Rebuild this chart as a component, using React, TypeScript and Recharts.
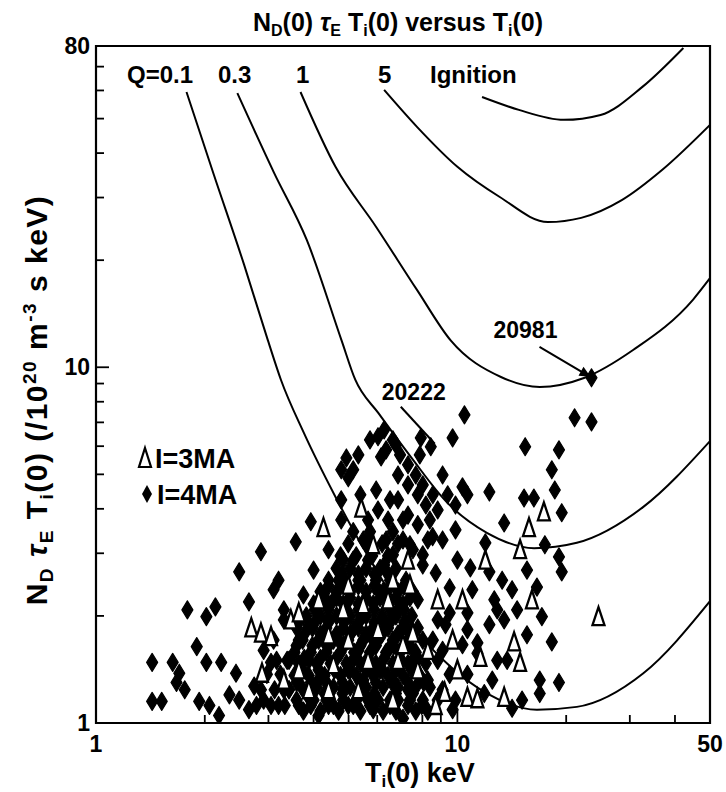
import { ComposedChart, Line, Scatter, XAxis, YAxis, ReferenceArea, ReferenceDot } from "recharts"

const X_TICKS = [1, 2, 3, 4, 5, 6, 7, 8, 9, 10, 20, 30, 40, 50]
const X_LABELS = [1, 10, 50]
const Y_TICKS = [1, 2, 3, 4, 5, 6, 7, 8, 9, 10, 20, 30, 40, 50, 60, 70, 80]
const Y_LABELS = [1, 10, 80]

// Q contours, [Ti(0) keV, N tau T]
const Q01 = [[1.78, 59.4], [2.12, 34.7], [2.57, 19.4], [2.99, 11.9], [3.25, 9.21], [3.76, 6.54], [4.6, 4.32], [5.85, 2.78], [7.78, 1.79], [9.58, 1.44], [12.1, 1.21], [16.6, 1.09], [21.4, 1.11], [32.7, 1.38], [50, 2.2]]
const Q03 = [[2.46, 59.0], [3.11, 35.2], [3.83, 22.8], [4.78, 11.9], [5.22, 9.21], [6.04, 7.44], [7.44, 5.59], [9.4, 4.15], [12.1, 3.42], [16.3, 3.1], [21.4, 3.21], [32.7, 4.05], [50, 6.2]]
const Q1 = [[3.68, 59.4], [4.6, 36.6], [5.96, 24.8], [7.73, 16.5], [9.58, 11.9], [13.2, 9.39], [16.9, 8.8], [22.4, 9.33], [30.7, 11.2], [44.9, 15.5], [50, 17.8]]
const Q5 = [[6.27, 60.2], [7.73, 47.4], [10.0, 36.6], [13.1, 30.1], [17.8, 25.6], [22.0, 26.3], [28.5, 29.5], [36.9, 35.9], [50, 48.0]]
const IGNITION = [[11.7, 57.5], [14.8, 52.9], [19.7, 49.6], [24.9, 51.2], [32.5, 61.4], [42.2, 79.0]]

// shots, I = 4MA (filled diamonds)
const I4MA = [
  [1.43, 1.15], [1.52, 1.15], [1.43, 1.48], [1.63, 1.48], [1.7, 1.38], [1.67, 1.3], [1.76, 1.24], [1.9, 1.64], [2.02, 1.48], [1.93, 1.15],
  [1.79, 2.08], [2.02, 1.99], [2.14, 2.12], [2.22, 1.48], [2.44, 1.38], [2.49, 2.66], [2.65, 2.19], [2.86, 3.03], [3.2, 2.52], [3.1, 2.37],
  [3.05, 1.48], [3.57, 3.23], [3.93, 3.68], [4.77, 5.15], [4.93, 5.56], [4.99, 4.89], [4.77, 4.24], [4.77, 3.72], [6.03, 6.38], [6.15, 5.6],
  [6.03, 3.97], [5.96, 4.52], [6.27, 6.67], [6.35, 5.86], [6.85, 4.98], [7.3, 4.67], [7.77, 4.38], [8.18, 4.1], [6.43, 3.72], [6.35, 3.27],
  [6.63, 2.97], [6.27, 2.78], [7.92, 6.33], [8.44, 5.98], [7.87, 5.67], [9.7, 6.33], [10.46, 7.35], [15.4, 5.98], [19.1, 5.86], [21.1, 7.21],
  [23.5, 7.02], [23.5, 9.34], [12.26, 4.46], [10.33, 4.61], [18.25, 5.15], [18.6, 4.52], [19.44, 3.9], [15.29, 4.29], [16.28, 4.29], [13.47, 3.65],
  [8.54, 3.34], [11.95, 3.21], [10.86, 2.73], [12.26, 2.66], [13.3, 2.52], [8.71, 2.64], [9.52, 2.4], [19.1, 2.93], [19.44, 2.66], [16.6, 2.41],
  [17.13, 1.99], [18.25, 1.69], [9.52, 2.04], [10.66, 2.04], [11.36, 1.68], [13.47, 1.95], [16.9, 1.32], [19.1, 1.3], [16.9, 1.21], [11.36, 1.57],
  [11.87, 1.21], [9.1, 4.98], [9.4, 4.38], [9.88, 4.1], [10.66, 4.38], [9.88, 3.49], [12.65, 2.22], [10.66, 1.83], [12.26, 1.89], [12.89, 1.5],
  [14.17, 1.1], [14.63, 2.08], [15.58, 2.69], [17.46, 3.17],
  [10.0, 2.87], [11.0, 2.37], [12.89, 2.08], [14.17, 2.37], [10.33, 1.66], [12.49, 1.32], [15.1, 1.16], [13.73, 1.5], [15.58, 1.77], [10.66, 1.37],
  [6.63, 6.25], [6.94, 5.67], [7.3, 5.32], [7.67, 4.98], [8.02, 4.67], [8.55, 4.38], [8.82, 3.97], [6.85, 4.24], [7.3, 3.84], [7.77, 3.61],
  [8.28, 3.27], [7.53, 3.07], [8.02, 2.78], [7.07, 3.27],
  [5.15, 5.15], [5.39, 4.38], [5.66, 3.72], [6.51, 4.24], [7.07, 3.72], [7.39, 3.17], [5.32, 5.67], [5.73, 6.25], [6.76, 6.05], [8.39, 3.72],
  [9.1, 3.27], [8.02, 2.97],
  [3.31, 2.08], [3.75, 2.29], [3.64, 1.71], [3.88, 1.5], [3.42, 1.24], [3.64, 1.12], [4.0, 1.16], [4.13, 1.32], [4.26, 1.71], [4.4, 1.95],
  [4.54, 2.22], [4.69, 2.52], [4.83, 2.87], [4.99, 2.22], [5.15, 1.83], [5.32, 1.6], [5.49, 1.32], [5.66, 1.16], [5.85, 1.09], [4.54, 1.12],
  [4.83, 1.24], [4.99, 1.41], [4.26, 2.29], [5.32, 2.52], [5.66, 2.87], [6.03, 2.37], [6.23, 1.95], [6.43, 1.6], [6.63, 1.32], [6.85, 1.16],
  [7.07, 1.03], [7.3, 1.24], [7.53, 1.5], [7.3, 1.83], [6.85, 2.08], [7.77, 2.22], [8.02, 1.71], [8.28, 1.32], [8.82, 1.16], [9.7, 1.09],
  [9.1, 1.6], [8.82, 1.95], [5.49, 2.01], [5.85, 1.71], [6.11, 1.41], [5.15, 1.12], [4.13, 1.05], [3.2, 1.12], [3.31, 1.24], [2.91, 1.16],
  [2.65, 1.09], [2.74, 1.27], [2.49, 1.16], [2.34, 1.2], [2.19, 1.05], [2.06, 1.12], [2.91, 1.6], [3.1, 1.71], [3.31, 1.95], [3.42, 1.5],
  [3.88, 1.89], [4.69, 1.71], [5.15, 2.87], [5.49, 3.27], [4.4, 3.07], [4.0, 2.69],
  // dense core of the cloud
  [3.75, 1.08], [4.18, 1.08], [4.69, 1.08], [5.39, 1.08], [6.23, 1.08], [6.76, 1.08], [7.67, 1.08], [8.28, 1.08],
  [3.59, 1.16], [3.93, 1.16], [4.34, 1.16], [4.83, 1.16], [5.25, 1.16], [6.03, 1.16], [6.51, 1.16], [7.39, 1.16], [8.02, 1.16],
  [3.71, 1.26], [4.08, 1.26], [4.54, 1.26], [5.05, 1.26], [5.59, 1.26], [6.23, 1.26], [6.85, 1.26], [7.67, 1.26], [8.39, 1.26],
  [3.54, 1.36], [3.88, 1.36], [4.29, 1.36], [4.75, 1.36], [5.25, 1.36], [5.85, 1.36], [6.43, 1.36], [7.07, 1.36], [7.87, 1.36],
  [3.64, 1.47], [4.08, 1.47], [4.46, 1.47], [4.93, 1.47], [5.39, 1.47], [5.95, 1.47], [6.63, 1.47], [7.3, 1.47], [8.18, 1.47],
  [3.54, 1.58], [3.93, 1.58], [4.34, 1.58], [4.75, 1.58], [5.18, 1.58], [5.73, 1.58], [6.35, 1.58], [6.94, 1.58], [7.67, 1.58],
  [3.73, 1.71], [4.13, 1.71], [4.54, 1.71], [4.99, 1.71], [5.49, 1.71], [6.03, 1.71], [6.63, 1.71], [7.3, 1.71],
  [3.59, 1.85], [3.97, 1.85], [4.34, 1.85], [4.83, 1.85], [5.32, 1.85], [5.85, 1.85], [6.43, 1.85], [7.07, 1.85], [7.77, 1.85],
  [3.82, 2.0], [4.18, 2.0], [4.63, 2.0], [5.05, 2.0], [5.59, 2.0], [6.19, 2.0], [6.76, 2.0], [7.48, 2.0],
  [4.0, 2.16], [4.4, 2.16], [4.83, 2.16], [5.32, 2.16], [5.85, 2.16], [6.43, 2.16], [7.07, 2.16],
  [4.18, 2.34], [4.63, 2.34], [5.05, 2.34], [5.59, 2.34], [6.23, 2.34], [6.85, 2.34], [7.53, 2.34],
  [4.4, 2.52], [4.83, 2.52], [5.39, 2.52], [5.95, 2.52], [6.51, 2.52], [7.21, 2.52],
  [4.63, 2.72], [5.05, 2.72], [5.59, 2.72], [6.11, 2.72], [6.76, 2.72],
  [4.75, 2.95], [5.25, 2.95], [5.81, 2.95], [6.43, 2.95],
  [4.99, 3.19], [5.59, 3.19], [6.19, 3.19], [6.85, 3.19],
  [5.15, 3.45], [5.73, 3.45], [6.63, 3.45],
  [3.93, 1.12], [4.4, 1.12], [4.99, 1.12], [5.73, 1.12], [6.51, 1.12], [7.3, 1.12], [7.97, 1.12],
  [3.82, 1.21], [4.29, 1.21], [4.81, 1.21], [5.39, 1.21], [5.89, 1.21], [6.76, 1.21], [7.53, 1.21],
  [3.59, 1.3], [3.93, 1.3], [4.34, 1.3], [4.81, 1.3], [5.39, 1.3], [5.95, 1.3], [6.59, 1.3], [7.3, 1.3], [8.07, 1.3],
  [3.73, 1.41], [4.13, 1.41], [4.57, 1.41], [5.05, 1.41], [5.59, 1.41], [6.19, 1.41], [6.76, 1.41], [7.48, 1.41],
  [3.77, 1.52], [4.18, 1.52], [4.63, 1.52], [5.18, 1.52], [5.66, 1.52], [6.27, 1.52], [6.94, 1.52], [7.77, 1.52],
  [3.59, 1.65], [3.97, 1.65], [4.4, 1.65], [4.86, 1.65], [5.39, 1.65], [5.95, 1.65], [6.67, 1.65], [7.39, 1.65],
  [3.77, 1.78], [4.18, 1.78], [4.63, 1.78], [5.05, 1.78], [5.59, 1.78], [6.19, 1.78], [6.85, 1.78], [7.48, 1.78],
  [3.64, 1.92], [4.03, 1.92], [4.4, 1.92], [4.86, 1.92], [5.32, 1.92], [5.89, 1.92], [6.51, 1.92], [7.12, 1.92],
  [4.03, 2.08], [4.4, 2.08], [4.86, 2.08], [5.32, 2.08], [5.89, 2.08], [6.51, 2.08], [7.12, 2.08],
  [4.18, 2.25], [4.63, 2.25], [5.05, 2.25], [5.59, 2.25], [6.11, 2.25], [6.76, 2.25], [7.39, 2.25],
  [4.4, 2.43], [4.86, 2.43], [5.32, 2.43], [5.89, 2.43], [6.51, 2.43], [7.12, 2.43],
  [4.81, 2.62], [5.32, 2.62], [5.89, 2.62], [6.43, 2.62],
  [2.78, 1.12], [3.05, 1.12], [3.33, 1.12], [2.86, 1.24], [3.12, 1.24], [3.42, 1.24], [2.97, 1.37], [3.24, 1.37], [3.16, 1.5], [3.38, 1.5],
  [9.1, 1.24], [9.52, 1.37], [8.82, 1.5], [9.88, 1.16], [8.55, 1.71], [9.27, 1.89],
]

// shots, I = 3MA (open triangles)
const I3MA = [
  [4.26, 3.54], [5.42, 4.02], [2.69, 1.85], [2.86, 1.79], [3.05, 1.75], [3.46, 1.95], [3.64, 2.04], [2.88, 1.38], [17.35, 3.92], [15.78, 3.54],
  [11.95, 2.87], [14.91, 3.07], [24.57, 1.99], [7.39, 2.44], [16.08, 2.22], [14.35, 1.69], [14.91, 1.48], [11.58, 1.53], [10.66, 1.18], [11.36, 1.17],
  [8.71, 1.12], [13.47, 1.18], [7.53, 1.79], [9.22, 1.22],
  [4.13, 2.22], [4.54, 1.46], [4.83, 2.08], [5.32, 1.24], [5.66, 1.5], [6.03, 1.83], [6.43, 2.22], [6.85, 1.5], [4.99, 1.71], [3.88, 1.24],
  [4.4, 1.24], [6.63, 1.16], [7.07, 1.66], [7.77, 1.41], [8.28, 1.6], [8.82, 2.22], [9.7, 1.71], [10.0, 1.41], [10.33, 2.22], [4.99, 2.44],
  [3.64, 1.41], [3.31, 1.32], [5.49, 2.15], [5.85, 3.17], [6.63, 2.52], [7.3, 2.87], [4.4, 1.77],
]

const SHOT_20981 = [23.5, 9.34]
const SHOT_20222 = [8.44, 5.98]

const toXY = (pts: number[][]) => pts.map(([x, y]) => ({ x, y }))

const FONT = '"Liberation Sans", Arial, Helvetica, sans-serif'
const W = 726
const H = 792
const PLOT_LEFT = 96
const PLOT_TOP = 46
const PLOT_BOTTOM = 723
const PLOT_RIGHT = 710
const X_AXIS_H = 40
const Y_AXIS_W = 60

const XTick = ({ x, payload }: any) => {
  const major = X_LABELS.includes(payload.value)
  return (
    <g>
      <line x1={x} x2={x} y1={PLOT_BOTTOM} y2={PLOT_BOTTOM - (major ? 13 : 8)} stroke="#000" strokeWidth={1.8} />
      {major && (
        <text x={x} y={PLOT_BOTTOM + 29} textAnchor="middle" fontSize={23} fontWeight="bold" fontFamily={FONT} fill="#000">
          {payload.value}
        </text>
      )}
    </g>
  )
}

const YTick = ({ y, payload }: any) => {
  const major = Y_LABELS.includes(payload.value)
  return (
    <g>
      <line x1={PLOT_LEFT} x2={PLOT_LEFT + (major ? 13 : 8)} y1={y} y2={y} stroke="#000" strokeWidth={1.8} />
      {major && (
        <text x={PLOT_LEFT - 6} y={y + 8} textAnchor="end" fontSize={23} fontWeight="bold" fontFamily={FONT} fill="#000">
          {payload.value}
        </text>
      )}
    </g>
  )
}

const Diamond = ({ cx, cy }: any) => (
  <path
    d={`M${cx},${cy - 9}L${cx + 5.5},${cy}L${cx},${cy + 9}L${cx - 5.5},${cy}Z`}
    fill="#000"
    stroke="#000"
    strokeWidth={1.2}
    strokeLinejoin="round"
  />
)

const Triangle = ({ cx, cy }: any) => (
  <path d={`M${cx},${cy - 9.5}L${cx + 6},${cy + 8.5}L${cx - 6},${cy + 8.5}Z`} fill="#fff" stroke="#000" strokeWidth={2.3} />
)

const Arrow20981 = ({ cx, cy }: any) => (
  <g>
    <line x1={cx - 52} y1={cy - 31} x2={cx - 8} y2={cy - 5} stroke="#000" strokeWidth={2} />
    <path d={`M${cx - 1},${cy - 1}L${cx - 13},${cy - 2}L${cx - 8},${cy - 11}Z`} fill="#000" />
    <text x={cx - 66} y={cy - 40} textAnchor="middle" fontSize={23} fontWeight="bold" fontFamily={FONT} fill="#000">20981</text>
  </g>
)

const Arrow20222 = ({ cx, cy }: any) => (
  <g>
    <line x1={cx - 30} y1={cy - 40} x2={cx + 4} y2={cy - 3} stroke="#000" strokeWidth={2} />
    <text x={cx - 17} y={cy - 47} textAnchor="middle" fontSize={23} fontWeight="bold" fontFamily={FONT} fill="#000">20222</text>
  </g>
)

const sub = { fontSize: 16 }

export default function App() {
  return (
    <div style={{ position: "absolute", left: 0, top: 0, width: W, height: H, background: "#fff" }}>
      <ComposedChart
        width={W}
        height={H}
        margin={{ top: PLOT_TOP, right: W - PLOT_RIGHT, bottom: H - PLOT_BOTTOM - X_AXIS_H, left: PLOT_LEFT - Y_AXIS_W }}
      >
        <XAxis
          type="number"
          dataKey="x"
          scale="log"
          domain={[1, 50]}
          ticks={X_TICKS}
          interval={0}
          allowDataOverflow
          axisLine={false}
          tickLine={false}
          tickSize={0}
          height={X_AXIS_H}
          tick={<XTick />}
        />
        <YAxis
          type="number"
          dataKey="y"
          scale="log"
          domain={[1, 80]}
          ticks={Y_TICKS}
          interval={0}
          allowDataOverflow
          axisLine={false}
          tickLine={false}
          tickSize={0}
          width={Y_AXIS_W}
          tick={<YTick />}
        />
        {[Q01, Q03, Q1, Q5, IGNITION].map((c, i) => (
          <Line
            key={i}
            data={toXY(c)}
            dataKey="y"
            type="monotone"
            stroke="#000"
            strokeWidth={2}
            dot={false}
            isAnimationActive={false}
          />
        ))}
        <Scatter data={toXY(I4MA)} dataKey="y" shape={Diamond} isAnimationActive={false} />
        <Scatter data={toXY(I3MA)} dataKey="y" shape={Triangle} isAnimationActive={false} />
        <ReferenceDot x={SHOT_20981[0]} y={SHOT_20981[1]} r={0} shape={Arrow20981} />
        <ReferenceDot x={SHOT_20222[0]} y={SHOT_20222[1]} r={0} shape={Arrow20222} />
        <ReferenceArea x1={1} x2={50} y1={1} y2={80} fill="none" stroke="#000" strokeWidth={2.2} />
      </ComposedChart>

      <svg width={W} height={H} style={{ position: "absolute", left: 0, top: 0, pointerEvents: "none" }} fontFamily={FONT} fontWeight="bold">
        <text x={398} y={31} textAnchor="middle" fontSize={25}>
          N<tspan {...sub} dy={5}>D</tspan><tspan dy={-5}>(0) </tspan>
          <tspan fontStyle="italic">τ</tspan><tspan {...sub} dy={5}>E</tspan>
          <tspan dy={-5}> T</tspan><tspan {...sub} dy={5}>i</tspan>
          <tspan dy={-5}>(0) versus T</tspan><tspan {...sub} dy={5}>i</tspan><tspan dy={-5}>(0)</tspan>
        </text>

        <text x={365} y={782} fontSize={27}>
          T<tspan fontSize={17} dy={5}>i</tspan><tspan dy={-5}>(0) keV</tspan>
        </text>

        <text x={47} y={400} textAnchor="middle" fontSize={30} letterSpacing={1.5} transform="rotate(-90 47 400)">
          N<tspan fontSize={19} dy={6}>D</tspan>
          <tspan dy={-6} fontStyle="italic"> τ</tspan><tspan fontSize={19} dy={6}>E</tspan>
          <tspan dy={-6}> T</tspan><tspan fontSize={19} dy={6}>i</tspan>
          <tspan dy={-6}>(0) (/10</tspan><tspan fontSize={19} dy={-11}>20</tspan>
          <tspan dy={11}> m</tspan><tspan fontSize={19} dy={-11}>-3</tspan>
          <tspan dy={11}> s keV)</tspan>
        </text>

        <g fontSize={24}>
          <text x={127} y={83}>Q=0.1</text>
          <text x={218} y={83}>0.3</text>
          <text x={296} y={83}>1</text>
          <text x={378} y={83}>5</text>
          <text x={430} y={83}>Ignition</text>
        </g>

        <g fontSize={27}>
          <path d="M145,448L151,467L139,467Z" fill="#fff" stroke="#000" strokeWidth={2.2} />
          <text x={155} y={468}>I=3MA</text>
          <path d="M147,485L152,494L147,503L142,494Z" fill="#000" />
          <text x={157} y={504}>I=4MA</text>
        </g>
      </svg>
    </div>
  )
}
